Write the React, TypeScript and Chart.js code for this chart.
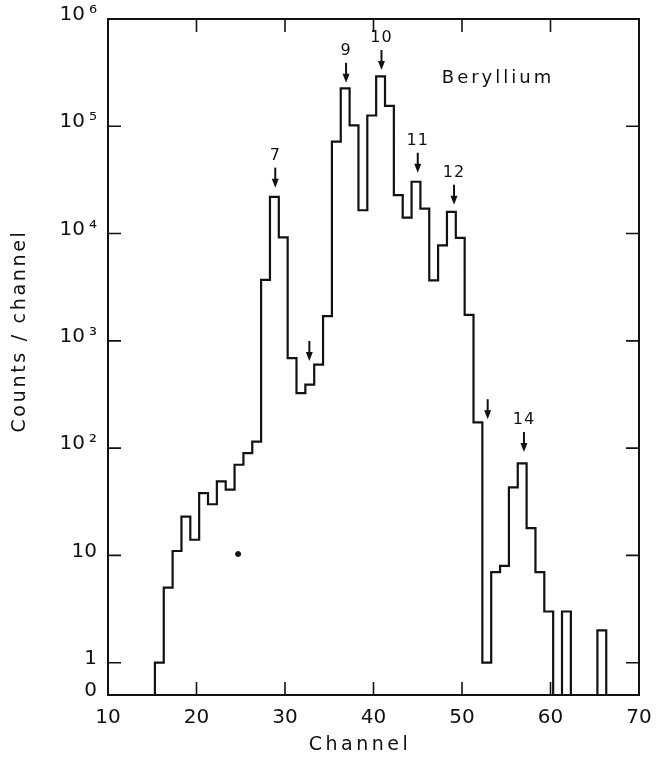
import React, { useEffect, useRef } from "react";
import { Chart, registerables } from "chart.js";

Chart.register(...registerables);

// ---- data ----
const CHANNELS = [
  15, 16, 17, 18, 19, 20, 21, 22, 23, 24, 25, 26, 27, 28, 29, 30, 31, 32, 33, 34,
  35, 36, 37, 38, 39, 40, 41, 42, 43, 44, 45, 46, 47, 48, 49, 50, 51, 52, 53, 54,
  55, 56, 57, 58, 59, 60, 61, 62, 63, 64, 65,
];
const COUNTS = [
  1, 5, 11, 23, 14, 38, 30, 49, 41, 70, 90, 115, 3700, 22000, 9200, 690, 325, 390, 600, 1700,
  72000, 226000, 102000, 16500, 126000, 292000, 155000, 22800, 14100, 30400, 17100, 3660, 7770, 15900, 9100, 1750,
  174, 1, 7, 8, 43, 72, 18, 7, 3, 0, 3, 0, 0, 0, 2,
];

const ARROW_CHANNELS = [28.9, 32.75, 36.9, 40.9, 45.0, 49.1, 52.9, 57.0];
const ARROW_TIPS = [26800, 650, 254000, 335000, 36900, 18600, 186, 92];
const ARROW_LABELS = ["7", "", "9", "10", "11", "12", "", "14"];

const STRAY_POINT = [{ x: 24.7, y: 10.3 }];

const X_TICKS = [10, 20, 30, 40, 50, 60, 70];
const Y_TICK_VALUES = [0.5, 1, 10, 100, 1000, 10000, 100000, 1000000];
const Y_TICK_LABELS = ["0", "1", "10", "10\u2009²", "10\u2009³", "10\u2009⁴", "10\u2009⁵", "10\u2009⁶"];

const TITLE_X = "Channel";
const TITLE_Y = "Counts / channel";
const ELEMENT_LABEL = "Beryllium";

// ---- layout / style constants ----
const BIN_OFFSET = 0.3;
const FONT = "'DejaVu Sans', sans-serif";
const INK = "#111";
const X_MIN = X_TICKS[0];
const X_MAX = X_TICKS[X_TICKS.length - 1];
const ZERO_LEVEL = Y_TICK_VALUES[0];

function buildSteps() {
  const pts: { x: number; y: number }[] = [{ x: X_MIN, y: ZERO_LEVEL }];
  CHANNELS.forEach((c, i) => {
    const v = COUNTS[i];
    pts.push({ x: c + BIN_OFFSET, y: v > 0 ? v : ZERO_LEVEL });
  });
  pts.push({ x: CHANNELS[CHANNELS.length - 1] + 1 + BIN_OFFSET, y: ZERO_LEVEL });
  pts.push({ x: X_MAX, y: ZERO_LEVEL });
  return pts;
}

const decorPlugin = {
  id: "decor",
  afterDatasetsDraw(chart: any) {
    const { ctx, chartArea: a, scales } = chart;
    const xs = scales.x;
    const ys = scales.y;
    ctx.save();
    ctx.strokeStyle = INK;
    ctx.fillStyle = INK;

    // frame
    ctx.lineWidth = 2;
    ctx.strokeRect(a.left, a.top, a.right - a.left, a.bottom - a.top);

    // inner ticks
    const TL = 13;
    ctx.lineWidth = 1.6;
    ctx.beginPath();
    X_TICKS.slice(1, -1).forEach((t) => {
      const px = xs.getPixelForValue(t);
      ctx.moveTo(px, a.bottom);
      ctx.lineTo(px, a.bottom - TL);
      ctx.moveTo(px, a.top);
      ctx.lineTo(px, a.top + TL);
    });
    Y_TICK_VALUES.slice(1, -1).forEach((t) => {
      const py = ys.getPixelForValue(t);
      ctx.moveTo(a.left, py);
      ctx.lineTo(a.left + TL, py);
      ctx.moveTo(a.right, py);
      ctx.lineTo(a.right - TL, py);
    });
    ctx.stroke();

    // arrows
    ARROW_CHANNELS.forEach((c, i) => {
      const px = xs.getPixelForValue(c);
      const tip = ys.getPixelForValue(ARROW_TIPS[i]);
      const tail = tip - 20;
      ctx.lineWidth = 2;
      ctx.beginPath();
      ctx.moveTo(px, tail);
      ctx.lineTo(px, tip - 6);
      ctx.stroke();
      ctx.beginPath();
      ctx.moveTo(px - 3.5, tip - 9);
      ctx.lineTo(px + 3.5, tip - 9);
      ctx.lineTo(px, tip);
      ctx.closePath();
      ctx.fill();
      if (ARROW_LABELS[i]) {
        ctx.font = `16px ${FONT}`;
        ctx.textAlign = "center";
        ctx.textBaseline = "middle";
        (ctx as any).letterSpacing = "1px";
        ctx.fillText(ARROW_LABELS[i], px, tail - 12);
        (ctx as any).letterSpacing = "0px";
      }
    });

    // element label
    ctx.font = `18px ${FONT}`;
    ctx.textAlign = "center";
    ctx.textBaseline = "alphabetic";
    (ctx as any).letterSpacing = "3px";
    ctx.fillText(ELEMENT_LABEL, a.left + 390, a.top + 64);

    // x title
    ctx.font = `19px ${FONT}`;
    (ctx as any).letterSpacing = "3.5px";
    ctx.textBaseline = "middle";
    ctx.fillText(TITLE_X, a.left + 252, a.bottom + 50);

    // y title
    (ctx as any).letterSpacing = "2.7px";
    ctx.translate(20, a.top + 312);
    ctx.rotate(-Math.PI / 2);
    ctx.fillText(TITLE_Y, 0, 0);
    ctx.restore();
  },
};

export default function App() {
  const ref = useRef<HTMLCanvasElement | null>(null);

  useEffect(() => {
    if (!ref.current) return;
    const chart = new Chart(ref.current, {
      type: "line",
      data: {
        datasets: [
          {
            data: buildSteps(),
            stepped: "before",
            borderColor: INK,
            borderWidth: 2.2,
            pointRadius: 0,
            fill: false,
          },
          {
            type: "scatter",
            data: STRAY_POINT,
            pointRadius: 2.5,
            pointBackgroundColor: INK,
            pointBorderColor: INK,
            showLine: false,
          } as any,
        ],
      },
      options: {
        animation: false,
        responsive: false,
        devicePixelRatio: 1,
        events: [],
        layout: { padding: { left: 0, right: 17, top: 19, bottom: 0 } },
        plugins: { legend: { display: false }, tooltip: { enabled: false } },
        scales: {
          x: {
            type: "linear",
            min: X_MIN,
            max: X_MAX,
            afterBuildTicks: (s: any) => {
              s.ticks = X_TICKS.map((v) => ({ value: v }));
            },
            afterFit: (s: any) => {
              s.height = 63;
              s.paddingLeft = 0;
              s.paddingRight = 0;
            },
            grid: { display: false, drawTicks: false },
            border: { display: false },
            ticks: {
              autoSkip: false,
              maxRotation: 0,
              padding: 11,
              color: INK,
              font: { family: FONT, size: 20 },
            },
          },
          y: {
            type: "logarithmic",
            min: ZERO_LEVEL,
            max: Y_TICK_VALUES[Y_TICK_VALUES.length - 1],
            afterBuildTicks: (s: any) => {
              s.ticks = Y_TICK_VALUES.map((v) => ({ value: v }));
            },
            afterFit: (s: any) => {
              s.width = 108;
              s.paddingTop = 0;
              s.paddingBottom = 0;
            },
            grid: { display: false, drawTicks: false },
            border: { display: false },
            ticks: {
              autoSkip: false,
              padding: 11,
              labelOffset: -4,
              color: INK,
              font: { family: FONT, size: 20 },
              callback: (v: any) => {
                const i = Y_TICK_VALUES.indexOf(Number(v));
                return i >= 0 ? Y_TICK_LABELS[i] : "";
              },
            },
          },
        },
      },
      plugins: [decorPlugin],
    } as any);
    return () => chart.destroy();
  }, []);

  return (
    <div style={{ position: "absolute", left: 0, top: 0, width: 656, height: 758, background: "#fff" }}>
      <canvas ref={ref} width={656} height={758} />
    </div>
  );
}
